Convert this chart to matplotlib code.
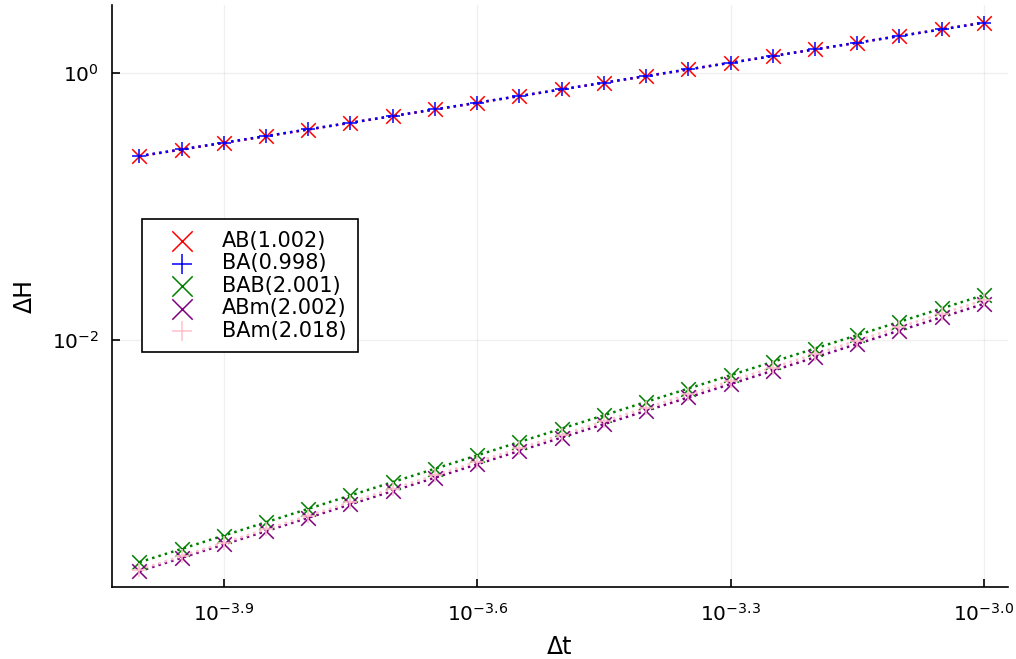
import matplotlib

matplotlib.use("Agg")
import matplotlib.pyplot as plt
from matplotlib.ticker import FixedLocator, NullLocator

# step sizes (log-spaced, 21 runs)
dt = [1.000e-4, 1.122e-4, 1.259e-4, 1.413e-4, 1.585e-4, 1.778e-4, 1.995e-4,
      2.239e-4, 2.512e-4, 2.818e-4, 3.162e-4, 3.548e-4, 3.981e-4, 4.467e-4,
      5.012e-4, 5.623e-4, 6.310e-4, 7.079e-4, 7.943e-4, 8.913e-4, 1.000e-3]

# energy error per integrator
dH_AB = [0.2388, 0.2680, 0.3006, 0.3373, 0.3787, 0.4248, 0.4768, 0.5350,
         0.6003, 0.6736, 0.7558, 0.8481, 0.9519, 1.068, 1.198, 1.345, 1.509,
         1.694, 1.900, 2.133, 2.393]
dH_BA = [0.2399, 0.2691, 0.3019, 0.3386, 0.3799, 0.4261, 0.4780, 0.5362,
         0.6015, 0.6747, 0.7568, 0.8489, 0.9524, 1.068, 1.198, 1.344, 1.508,
         1.692, 1.897, 2.129, 2.388]
dH_BAB = [2.173e-4, 2.735e-4, 3.443e-4, 4.335e-4, 5.459e-4, 6.873e-4,
          8.657e-4, 1.090e-3, 1.372e-3, 1.728e-3, 2.176e-3, 2.739e-3,
          3.449e-3, 4.342e-3, 5.467e-3, 6.882e-3, 8.665e-3, 1.091e-2,
          1.373e-2, 1.729e-2, 2.178e-2]
dH_ABm = [1.862e-4, 2.345e-4, 2.953e-4, 3.718e-4, 4.681e-4, 5.894e-4,
          7.421e-4, 9.347e-4, 1.177e-3, 1.482e-3, 1.866e-3, 2.350e-3,
          2.959e-3, 3.726e-3, 4.692e-3, 5.908e-3, 7.439e-3, 9.369e-3,
          1.180e-2, 1.485e-2, 1.871e-2]
dH_BAm = [1.914e-4, 2.415e-4, 3.047e-4, 3.842e-4, 4.848e-4, 6.115e-4,
          7.716e-4, 9.734e-4, 1.228e-3, 1.549e-3, 1.954e-3, 2.465e-3,
          3.110e-3, 3.925e-3, 4.950e-3, 6.245e-3, 7.877e-3, 9.938e-3,
          1.254e-2, 1.582e-2, 1.995e-2]

labels = ["AB(1.002)", "BA(0.998)", "BAB(2.001)", "ABm(2.002)", "BAm(2.018)"]
series = [dH_AB, dH_BA, dH_BAB, dH_ABm, dH_BAm]
colors = ["red", "blue", "green", "purple", "pink"]
markers = ["x", "+", "x", "x", "+"]

xticks = [10 ** -3.9, 10 ** -3.6, 10 ** -3.3, 10 ** -3.0]
xticklabels = [r"$10^{-3.9}$", r"$10^{-3.6}$", r"$10^{-3.3}$", r"$10^{-3.0}$"]
yticks = [1e-2, 1e0]
yticklabels = [r"$10^{-2}$", r"$10^{0}$"]

fig = plt.figure(figsize=(10.16, 6.59), dpi=100)
ax = fig.add_axes([0.110, 0.109, 0.882, 0.883])

for y, c, m, lab in zip(series, colors, markers, labels):
    ax.plot(dt, y, color=c, linestyle=":", linewidth=1.8, zorder=2)
    ax.scatter(dt, y, marker=m, s=110, color=c, linewidths=1.1,
               label=lab, zorder=3)

ax.set_xscale("log")
ax.set_yscale("log")
ax.set_xlim(10 ** -4.0328, 10 ** -2.9715)
ax.set_ylim(10 ** -3.850, 10 ** 0.509)

ax.xaxis.set_major_locator(FixedLocator(xticks))
ax.xaxis.set_minor_locator(NullLocator())
ax.set_xticklabels(xticklabels)
ax.yaxis.set_major_locator(FixedLocator(yticks))
ax.yaxis.set_minor_locator(NullLocator())
ax.set_yticklabels(yticklabels)

ax.tick_params(direction="in", length=6, width=1.2, labelsize=14.5)
ax.tick_params(axis="x", pad=11)
ax.tick_params(axis="y", pad=9)
ax.grid(True, color="black", alpha=0.06, linewidth=1)
for side in ["top", "right"]:
    ax.spines[side].set_visible(False)
for side in ["left", "bottom"]:
    ax.spines[side].set_linewidth(1.2)

ax.set_xlabel("Δt", fontsize=17, labelpad=8)
ax.set_ylabel("ΔH", fontsize=17, labelpad=11)

leg = ax.legend(loc="upper left", bbox_to_anchor=(0.0335, 0.632),
                borderaxespad=0, fancybox=False, edgecolor="black",
                framealpha=1, fontsize=15, markerscale=1.4,
                handletextpad=0.5, labelspacing=0.12, borderpad=0.55,
                handlelength=2.8)
leg.get_frame().set_linewidth(1.2)

fig.savefig("out.png", dpi=100)
